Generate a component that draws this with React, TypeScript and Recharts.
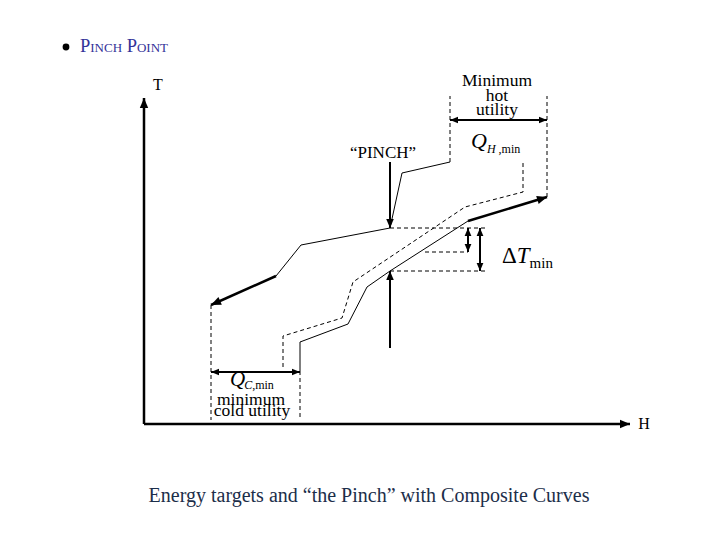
import React from "react";
import { ComposedChart, Line, XAxis, YAxis } from "recharts";

type Pt = { h: number; t: number };

const W = 720;
const H = 540;
const H_DOMAIN = [-144, 576];
const T_DOMAIN = [-116, 424];
const SX = W / (H_DOMAIN[1] - H_DOMAIN[0]);
const SY = H / (T_DOMAIN[1] - T_DOMAIN[0]);

// hot composite curve, from the top end down to the cold end
const hotCurve: Pt[] = [
  { h: 306, t: 262 },
  { h: 258, t: 251 },
  { h: 246, t: 196 },
  { h: 157, t: 179 },
  { h: 132, t: 148 },
];
const hotTail: Pt[] = [
  { h: 132, t: 148 },
  { h: 67, t: 119 },
];

// cold composite curve
const coldCurve: Pt[] = [
  { h: 156, t: 53 },
  { h: 156, t: 82 },
  { h: 204, t: 100 },
  { h: 223, t: 137 },
  { h: 246, t: 153 },
  { h: 324, t: 203 },
];
const coldTail: Pt[] = [
  { h: 324, t: 203 },
  { h: 403, t: 227 },
];

// cold curve shifted by dTmin (dashed)
const coldShifted: Pt[] = [
  { h: 139, t: 57 },
  { h: 139, t: 88 },
  { h: 198, t: 106 },
  { h: 209, t: 142 },
  { h: 321, t: 217 },
  { h: 379, t: 232 },
  { h: 379, t: 262 },
];

// dashed guide lines
const guides: Pt[][] = [
  [{ h: 306, t: 262 }, { h: 306, t: 328 }],
  [{ h: 403, t: 227 }, { h: 403, t: 328 }],
  [{ h: 67, t: 119 }, { h: 67, t: 4 }],
  [{ h: 156, t: 53 }, { h: 156, t: 4 }],
  [{ h: 246, t: 196 }, { h: 341, t: 196 }],
  [{ h: 281, t: 172 }, { h: 324, t: 172 }],
  [{ h: 246, t: 153 }, { h: 341, t: 153 }],
];

// arrows
const pinchArrow: Pt[] = [{ h: 246, t: 262 }, { h: 246, t: 196 }];
const upArrow: Pt[] = [{ h: 246, t: 76 }, { h: 246, t: 153 }];
const shiftArrow: Pt[] = [{ h: 324, t: 196 }, { h: 324, t: 172 }];
const dtArrow: Pt[] = [{ h: 336, t: 196 }, { h: 336, t: 153 }];
const qHotArrow: Pt[] = [{ h: 306, t: 304 }, { h: 403, t: 304 }];
const qColdArrow: Pt[] = [{ h: 67, t: 52 }, { h: 156, t: 52 }];
const tAxis: Pt[] = [{ h: 0, t: 0 }, { h: 0, t: 326 }];
const hAxis: Pt[] = [{ h: 0, t: 0 }, { h: 486, t: 0 }];

const SERIF = "'Liberation Serif', 'Times New Roman', serif";

const arrowDot = (pts: Pt[], both: boolean, size: number) => (props: any) => {
  const { cx, cy, index } = props;
  const key = `arrow-${index}-${cx}-${cy}`;
  const n = pts.length;
  let other: Pt | null = null;
  if (index === n - 1) other = pts[n - 2];
  else if (index === 0 && both) other = pts[1];
  if (!other || cx == null || cy == null) return <g key={key} />;
  const p = pts[index];
  const dx = (p.h - other.h) * SX;
  const dy = -(p.t - other.t) * SY;
  const len = Math.hypot(dx, dy) || 1;
  const ux = dx / len;
  const uy = dy / len;
  const bx = cx - ux * size;
  const by = cy - uy * size;
  const w = size * 0.42;
  return (
    <path
      key={key}
      d={`M${cx},${cy}L${bx - uy * w},${by + ux * w}L${bx + uy * w},${by - ux * w}Z`}
      fill="#000"
      stroke="none"
    />
  );
};

function seg(id: string, data: Pt[], opts: { width?: number; dash?: string; dot?: any }) {
  return (
    <Line
      key={id}
      type="linear"
      data={data}
      dataKey="t"
      stroke="#000"
      strokeWidth={opts.width ?? 1}
      strokeDasharray={opts.dash}
      dot={opts.dot ?? false}
      activeDot={false}
      isAnimationActive={false}
      legendType="none"
    />
  );
}

export default function App() {
  return (
    <div style={{ position: "absolute", left: 0, top: 0, width: W, height: H, background: "#fff" }}>
      <ComposedChart width={W} height={H} margin={{ top: 0, right: 0, bottom: 0, left: 0 }}>
        <XAxis type="number" dataKey="h" domain={H_DOMAIN} allowDataOverflow hide />
        <YAxis type="number" dataKey="t" domain={T_DOMAIN} allowDataOverflow hide />

        {guides.map((g, i) => seg(`guide-${i}`, g, { dash: "4 3" }))}
        {seg("cold-shifted", coldShifted, { dash: "4 3" })}
        {seg("hot", hotCurve, {})}
        {seg("hot-tail", hotTail, { width: 2.5, dot: arrowDot(hotTail, false, 10) })}
        {seg("cold", coldCurve, {})}
        {seg("cold-tail", coldTail, { width: 2.5, dot: arrowDot(coldTail, false, 10) })}
        {seg("pinch-arrow", pinchArrow, { width: 2, dot: arrowDot(pinchArrow, false, 9) })}
        {seg("up-arrow", upArrow, { width: 2, dot: arrowDot(upArrow, false, 9) })}
        {seg("shift-arrow", shiftArrow, { width: 2, dot: arrowDot(shiftArrow, true, 8) })}
        {seg("dt-arrow", dtArrow, { width: 2, dot: arrowDot(dtArrow, true, 8) })}
        {seg("qh-arrow", qHotArrow, { width: 2, dot: arrowDot(qHotArrow, true, 8) })}
        {seg("qc-arrow", qColdArrow, { width: 2, dot: arrowDot(qColdArrow, true, 8) })}
        {seg("t-axis", tAxis, { width: 2.5, dot: arrowDot(tAxis, false, 10) })}
        {seg("h-axis", hAxis, { width: 2.5, dot: arrowDot(hAxis, false, 10) })}

        <circle cx={66} cy={47} r={3.4} fill="#000" />
        <text x={80} y={52} fontFamily={SERIF} fontSize={18.5} fill="#333399" style={{ fontVariant: "small-caps" }}>
          Pinch Point
        </text>

        <text x={153} y={90} fontFamily={SERIF} fontSize={16} fill="#000">T</text>
        <text x={644} y={429} fontFamily={SERIF} fontSize={16} fill="#000" textAnchor="middle">H</text>

        <text fontFamily={SERIF} fontSize={17.5} fill="#000" textAnchor="middle">
          <tspan x={497} y={86}>Minimum</tspan>
          <tspan x={497} y={101}>hot</tspan>
          <tspan x={497} y={115}>utility</tspan>
        </text>

        <text x={383} y={158} fontFamily={SERIF} fontSize={17} fill="#000" textAnchor="middle">
          “PINCH”
        </text>

        <text x={471} y={148} fontFamily={SERIF} fill="#000">
          <tspan fontSize={22} fontStyle="italic">Q</tspan>
          <tspan fontSize={12} fontStyle="italic" dy={5}>H</tspan>
          <tspan fontSize={12}> ,min</tspan>
        </text>

        <text x={502} y={263} fontFamily={SERIF} fill="#000">
          <tspan fontSize={23}>Δ</tspan>
          <tspan fontSize={23} fontStyle="italic">T</tspan>
          <tspan fontSize={15} dy={5}>min</tspan>
        </text>

        <text x={230} y={386} fontFamily={SERIF} fill="#000">
          <tspan fontSize={21} fontStyle="italic">Q</tspan>
          <tspan fontSize={12} fontStyle="italic" dy={3} dx={-1}>C</tspan>
          <tspan fontSize={12}>,min</tspan>
        </text>
        <text fontFamily={SERIF} fontSize={17.5} fill="#000" textAnchor="middle">
          <tspan x={251} y={405}>minimum</tspan>
          <tspan x={252} y={416}>cold utility</tspan>
        </text>

        <text x={369} y={502} fontFamily={SERIF} fontSize={20} fill="#1c2e4a" textAnchor="middle">
          Energy targets and “the Pinch” with Composite Curves
        </text>
      </ComposedChart>
    </div>
  );
}
